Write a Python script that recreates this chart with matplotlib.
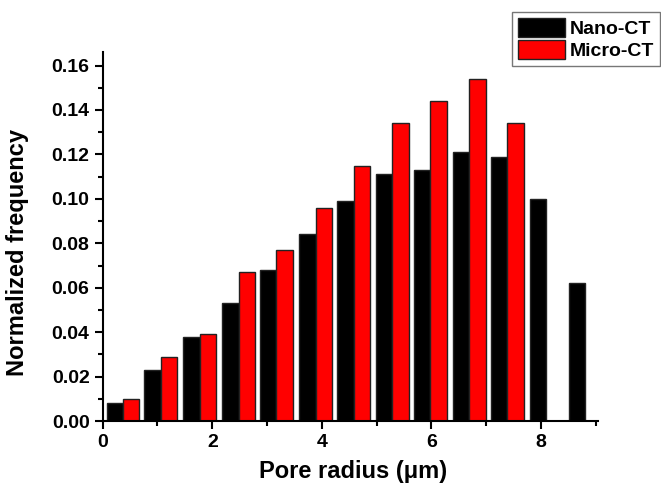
import numpy as np
import matplotlib.pyplot as plt

plt.rcParams['font.family'] = ['Liberation Sans', 'DejaVu Sans']
plt.rcParams['font.weight'] = 'bold'

# group centres (um) and normalized frequencies
radius = [0.37, 1.06, 1.77, 2.48, 3.17, 3.89, 4.58, 5.29, 5.98, 6.69, 7.39, 8.10, 8.81]
nano_ct = [0.008, 0.023, 0.038, 0.053, 0.068, 0.084, 0.099, 0.111, 0.113, 0.121, 0.119, 0.100, 0.062]
micro_ct = [0.010, 0.029, 0.039, 0.067, 0.077, 0.096, 0.115, 0.134, 0.144, 0.154, 0.134]

w = 0.3
x = np.array(radius)

fig = plt.figure(figsize=(6.61, 4.88), dpi=100)
ax = fig.add_axes([0.1554, 0.137, 0.749, 0.756])

ax.bar(x - w / 2, nano_ct, width=w, color='black', edgecolor='#222222', linewidth=1, label='Nano-CT')
ax.bar(x[:len(micro_ct)] + w / 2, micro_ct, width=w, color='#ff0000', edgecolor='#222222',
       linewidth=1, label='Micro-CT')

ax.set_xlim(0, 9.04)
ax.set_ylim(0, 0.166)
ax.set_xticks([0, 2, 4, 6, 8])
ax.set_xticks([1, 3, 5, 7, 9], minor=True)
ax.set_yticks(np.arange(0, 0.161, 0.02))
ax.set_yticks(np.arange(0.01, 0.17, 0.02), minor=True)
ax.yaxis.set_major_formatter(plt.FormatStrFormatter('%.2f'))

for s in ['top', 'right']:
    ax.spines[s].set_visible(False)
for s in ['left', 'bottom']:
    ax.spines[s].set_linewidth(1.5)
ax.tick_params(which='major', length=6, width=1.5, labelsize=14, direction='out')
ax.tick_params(which='minor', length=3.5, width=1.5, direction='out')

ax.set_xlabel('Pore radius (\u03bcm)', fontsize=17, fontweight='bold')
ax.set_ylabel('Normalized frequency', fontsize=17, fontweight='bold')
ax.xaxis.set_label_coords(0.506, -0.105)
ax.yaxis.set_label_coords(-0.148, 0.458)

leg = fig.legend(loc='upper right', bbox_to_anchor=(0.999, 0.975), fontsize=14, frameon=True,
                 fancybox=False, edgecolor='#555555', handlelength=2.45, handleheight=1.1,
                 handletextpad=0.25, borderpad=0.3, labelspacing=0.1, borderaxespad=0)
leg.get_frame().set_linewidth(1)

fig.savefig('out.png', dpi=100)
